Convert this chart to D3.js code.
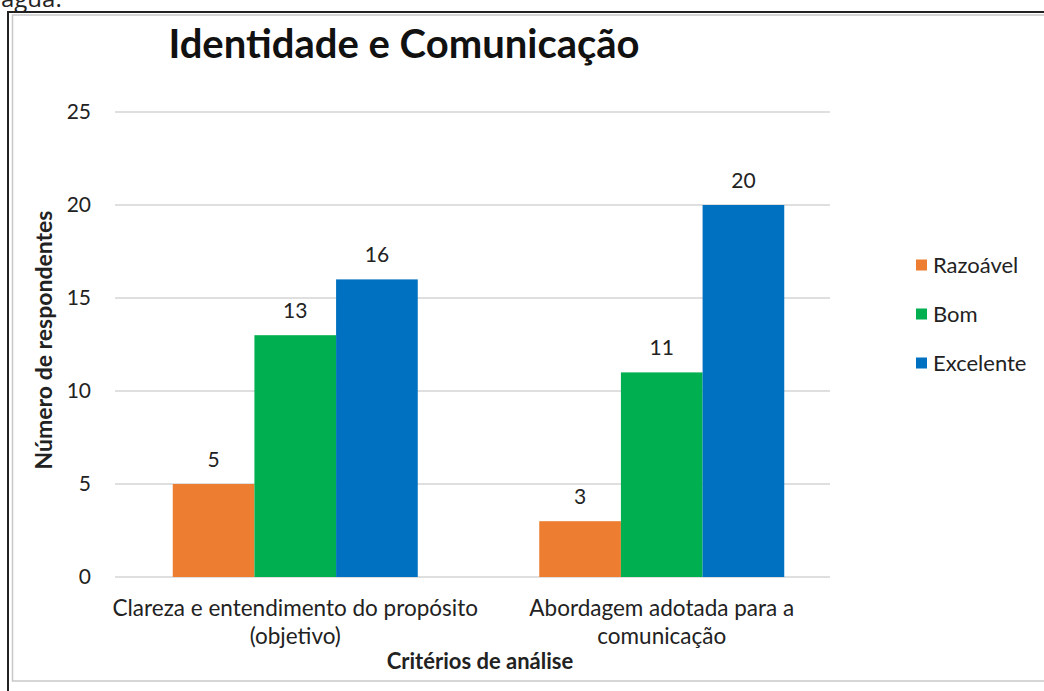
<!DOCTYPE html>
<html>
<head>
<meta charset="utf-8">
<script src="https://cdn.jsdelivr.net/npm/d3@7"></script>
<style>
  body { margin: 0; background: #fff; }
  svg { display: block; font-family: Lato, "Open Sans", sans-serif; }
</style>
</head>
<body>
<script>
// chart data
const categories = [
    ['Clareza e entendimento do propósito', '(objetivo)'],
    ['Abordagem adotada para a', 'comunicação']
];
const seriesNames = ['Razoável', 'Bom', 'Excelente'];
const seriesColors = ['#ED7D31', '#00B050', '#0070C0'];
const razoavel = [5, 3];
const bom = [13, 11];
const excelente = [16, 20];
const yTicks = [0, 5, 10, 15, 20, 25];

const width = 1044;
const height = 691;

const values = [razoavel, bom, excelente];

const svg = d3.select('body')
    .append('svg')
    .attr('width', width)
    .attr('height', height);

// bit of page text showing above the figure
svg.append('text')
    .attr('x', 1)
    .attr('y', 7)
    .style('font-family', '"Open Sans", sans-serif')
    .style('font-size', '24px')
    .attr('fill', '#222')
    .text('água.');

// outer frame + chart area
svg.append('rect')
    .attr('x', 8).attr('y', 12)
    .attr('width', 1050).attr('height', 700)
    .attr('fill', 'none')
    .attr('stroke', '#222')
    .attr('stroke-width', 2);
svg.append('rect')
    .attr('x', 12.5).attr('y', 15)
    .attr('width', 1040).attr('height', 666)
    .attr('fill', '#fff')
    .attr('stroke', '#c8c8c8')
    .attr('stroke-width', 1.5);

const x0 = d3.scaleBand()
    .domain(d3.range(categories.length))
    .range([112, 845]);

const groupW = 245;
const x1 = d3.scaleBand()
    .domain(d3.range(seriesNames.length))
    .range([0, groupW]);

const y = d3.scaleLinear()
    .domain([0, 25])
    .range([577, 112]);

// gridlines
svg.append('g')
    .selectAll('line')
    .data(yTicks)
    .enter().append('line')
    .attr('x1', 115)
    .attr('x2', 830)
    .attr('y1', d => y(d))
    .attr('y2', d => y(d))
    .attr('stroke', '#d4d4d4')
    .attr('stroke-width', 1.5);

// y tick labels
svg.append('g')
    .selectAll('text')
    .data(yTicks)
    .enter().append('text')
    .attr('x', 91)
    .attr('y', d => y(d))
    .attr('dy', '0.35em')
    .attr('text-anchor', 'end')
    .style('font-size', '21px')
    .attr('fill', '#222')
    .text(d => d);

// bars
const groups = svg.append('g')
    .selectAll('g')
    .data(categories)
    .enter().append('g')
    .attr('transform', (d, i) => `translate(${x0(i) + (x0.bandwidth() - groupW) / 2},0)`);

groups.selectAll('rect')
    .data((d, i) => values.map((s, k) => ({k, v: s[i]})))
    .enter().append('rect')
    .attr('x', d => x1(d.k))
    .attr('y', d => y(d.v))
    .attr('width', x1.bandwidth())
    .attr('height', d => y(0) - y(d.v))
    .attr('fill', d => seriesColors[d.k]);

// value labels
groups.selectAll('text')
    .data((d, i) => values.map((s, k) => ({k, v: s[i]})))
    .enter().append('text')
    .attr('x', d => x1(d.k) + x1.bandwidth() / 2)
    .attr('y', d => y(d.v) - 17)
    .attr('text-anchor', 'middle')
    .style('font-size', '21px')
    .attr('fill', '#222')
    .text(d => d.v);

// category labels
const catLabels = svg.append('g')
    .selectAll('text')
    .data(categories)
    .enter().append('text')
    .attr('text-anchor', 'middle')
    .style('font-size', '22.5px')
    .attr('fill', '#222');

catLabels.selectAll('tspan')
    .data((d, i) => d.map(t => ({t, i})))
    .enter().append('tspan')
    .attr('x', d => x0(d.i) + x0.bandwidth() / 2)
    .attr('y', (d, j) => 616 + j * 28)
    .text(d => d.t);

// axis titles
svg.append('text')
    .attr('x', 480)
    .attr('y', 669)
    .attr('text-anchor', 'middle')
    .style('font-size', '22px')
    .style('font-weight', 'bold')
    .attr('fill', '#222')
    .text('Critérios de análise');

svg.append('text')
    .attr('transform', 'translate(52,340) rotate(-90)')
    .attr('text-anchor', 'middle')
    .style('font-size', '23px')
    .style('font-weight', 'bold')
    .attr('fill', '#222')
    .text('Número de respondentes');

// title
svg.append('text')
    .attr('x', 404)
    .attr('y', 58)
    .attr('text-anchor', 'middle')
    .style('font-size', '40px')
    .style('font-weight', 'bold')
    .attr('fill', '#111')
    .text('Identidade e Comunicação');

// legend
const legend = svg.append('g')
    .selectAll('g')
    .data(seriesNames)
    .enter().append('g')
    .attr('transform', (d, i) => `translate(916,${265 + i * 49})`);

legend.append('rect')
    .attr('x', 0)
    .attr('y', -5.5)
    .attr('width', 11)
    .attr('height', 11)
    .attr('fill', (d, i) => seriesColors[i]);

legend.append('text')
    .attr('x', 17)
    .attr('dy', '0.35em')
    .style('font-size', '22px')
    .attr('fill', '#222')
    .text(d => d);
</script>
</body>
</html>
